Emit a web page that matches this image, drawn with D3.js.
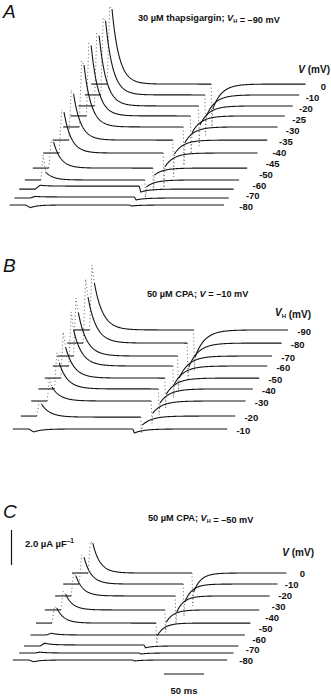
<!DOCTYPE html>
<html>
<head>
<meta charset="utf-8">
<script src="https://cdn.jsdelivr.net/npm/d3@7"></script>
<style>
  body { margin: 0; background: #fff; }
  svg text { font-family: "Liberation Sans", Arial, sans-serif; fill: #111; }
</style>
</head>
<body>
<div id="chart"></div>
<script>
// --------------------------------------
//  Protocol timing (ms, from trace start)
// --------------------------------------
const tOn = 20, tRise = 6, tOff = 150, tEnd = 268;

// --------------------------------------
//  Data (currents in µA µF-1, times in ms)
// --------------------------------------

// A: 30 µM thapsigargin, VH = -90 mV
const voltA    = [0, -10, -20, -25, -30, -35, -40, -45, -50, -60, -70, -80];
const stackA   = [6.91, 6.29, 5.66, 5.09, 4.46, 3.71, 2.97, 2.11, 1.43, 0.91, 0.4, 0];
const shiftA   = [114, 106, 98, 88, 79, 66, 54, 41, 31, 24, 18, 12];
const peakA    = [4.29, 4.23, 4.0, 4.0, 3.54, 2.63, 2.34, 1.49, 0.46, 0.05, 0.03, -0.15];
const capOnA   = [4.46, 4.4, 4.17, 4.17, 3.77, 2.86, 2.46, 1.6, 1.43, 0, 0, 0];
const platA    = [0, 0, 0, 0, 0, 0, 0, 0, 0, 0.17, 0.06, 0];
const tailA    = [1.43, 1.2, 1.09, 0.97, 0.91, 0.8, 0.8, 0.4, 0.4, 0.17, 0.11, 0.06];
const capOffA  = [1.0, 1.1, 1.2, 1.2, 1.3, 1.3, 1.3, 0.9, 0.6, 0, 0, 0];

// B: 50 µM CPA, V = -10 mV
const voltB    = [-90, -80, -70, -60, -50, -40, -30, -20, -10];
const stackB   = [5.66, 4.91, 4.17, 3.6, 2.91, 2.29, 1.6, 0.74, 0];
const shiftB   = [92, 84, 72, 66, 56, 48, 39, 26, 16];
const peakB    = [2.69, 2.63, 2.46, 2.06, 1.77, 1.49, 0.8, 0.74, -0.17];
const capOnB   = [3.71, 3.66, 3.31, 3.09, 2.63, 2.06, 1.37, 0.91, 0];
const platB    = [0, 0, 0, 0, 0, 0, 0, -0.06, 0];
const tailB    = [1.54, 1.37, 1.26, 1.03, 0.91, 0.8, 0.69, 0.51, 0.23];
const capOffB  = [0.8, 0.8, 0.8, 0.8, 0.8, 0.7, 0.6, 0.5, 0.3];

// C: 50 µM CPA, VH = -50 mV
const voltC    = [0, -10, -20, -30, -40, -50, -60, -70, -80];
const stackC   = [4.97, 4.34, 3.66, 2.86, 2.11, 1.43, 0.8, 0.4, 0];
const shiftC   = [90, 79, 69, 56, 45, 38, 30, 24, 16];
const peakC    = [1.71, 1.54, 1.14, 0.91, 0.86, 0.1, 0.1, 0.05, -0.1];
const capOnC   = [1.8, 1.65, 1.3, 1.05, 0.95, 0, 0, 0, 0];
const platC    = [0, 0, 0, 0, 0, 0, 0.06, 0, 0];
const tailC    = [1.09, 1.03, 0.91, 0.69, 0.69, 0, 0.1, 0.06, 0.06];
const capOffC  = [0.8, 0.8, 0.7, 0.6, 0.5, 0, 0, 0, 0];

// --------------------------------------
//  Canvas
// --------------------------------------
const width = 331, height = 696;

const svg = d3.select("#chart")
  .append("svg")
    .attr("width", width)
    .attr("height", height)
    .attr("viewBox", `0 0 ${width} ${height}`);

// 50 ms = 40 px
const x = d3.scaleLinear().domain([0, 50]).range([0, 40]);

const panels = [
  {volt: voltA, stack: stackA, shift: shiftA, peak: peakA, capOn: capOnA, plat: platA,
   tail: tailA, capOff: capOffA, tau: 9, tauTail: 11, base: 205,
   letter: "A", letterY: 18,
   title: [["30 µM thapsigargin; "], ["V", "i"], ["H", "s"], [" = –90 mV"]], titleX: 138, titleY: 21,
   head: [["V", "i"], [" (mV)"]], headX: 330, headY: 73,
   labels: {mode: "line", x: [326, 253], y: [87, 207]}},
  {volt: voltB, stack: stackB, shift: shiftB, peak: peakB, capOn: capOnB, plat: platB,
   tail: tailB, capOff: capOffB, tau: 10.5, tauTail: 12, base: 429,
   letter: "B", letterY: 272,
   title: [["50 µM CPA; "], ["V", "i"], [" = –10 mV"]], titleX: 147, titleY: 297,
   head: [["V", "i"], ["H", "s"], [" (mV)"]], headX: 311, headY: 316,
   labels: {mode: "end", dx: 23, dy: 2}},
  {volt: voltC, stack: stackC, shift: shiftC, peak: peakC, capOn: capOnC, plat: platC,
   tail: tailC, capOff: capOffC, tau: 9, tauTail: 9, base: 660,
   letter: "C", letterY: 518,
   title: [["50 µM CPA; "], ["V", "i"], ["H", "s"], [" = –50 mV"]], titleX: 148, titleY: 521,
   head: [["V", "i"], [" (mV)"]], headX: 314, headY: 556,
   labels: {mode: "line", x: [305, 253], y: [574, 661]}}
];

// writes mixed-style text runs (i = italic, s = subscript)
function richText(sel, runs, size) {
  runs.forEach(r => {
    const t = sel.append("tspan").text(r[0]);
    if (r[1] === "i") t.attr("font-style", "italic");
    if (r[1] === "s") {
      t.attr("font-size", size * 0.6).attr("dy", 2);
      sel.append("tspan").attr("dy", -2).text("");
    }
  });
}

const step = 0.5;
const solidStroke = "#151515";
const dotStroke = "#555";

panels.forEach(p => {

  const y = d3.scaleLinear().domain([0, 2]).range([p.base, p.base - 35]);
  const g = svg.append("g");

  p.volt.forEach((v, i) => {

    const line = d3.line()
      .x(q => x(p.shift[i] + q[0]))
      .y(q => y(p.stack[i] + q[1]));

    const decayAt = t => p.plat[i] + p.peak[i] * Math.exp(-(t - tOn - tRise) / p.tau);
    const tailAt = t => -p.tail[i] * Math.exp(-(t - tOff - 2) / p.tauTail);

    const pre = [[0, 0], [tOn, 0]];
    const decay = d3.range(tOn + tRise, tOff + step / 2, step).map(t => [t, decayAt(t)]);
    const tail = d3.range(tOff + 2, tEnd + step / 2, step).map(t => [t, tailAt(t)]);

    const onEdge = [[tOn, 0], [tOn + tRise / 2, p.plat[i] + p.capOn[i]], [tOn + tRise, decayAt(tOn + tRise)]];
    const offEdge = [[tOff, decayAt(tOff)], [tOff + 1, -p.tail[i] - p.capOff[i]], [tOff + 2, tailAt(tOff + 2)]];

    // fast edges: sparse samples print as dots
    const bigOn = p.capOn[i] > 0.3;
    const bigOff = p.capOff[i] > 0.3;

    const solid = pts => g.append("path").attr("d", line(pts))
      .attr("fill", "none").attr("stroke", solidStroke).attr("stroke-width", 1.1);
    const dotted = pts => g.append("path").attr("d", line(pts))
      .attr("fill", "none").attr("stroke", dotStroke)
      .attr("stroke-width", 0.9).attr("stroke-dasharray", "1,2.6");

    if (bigOn) {
      dotted(onEdge);
      solid(pre);
      solid(decay);
    } else {
      solid(pre.concat(decay));
    }

    if (bigOff) {
      dotted(offEdge);
      solid(tail);
    } else {
      solid([[tOff, decayAt(tOff)]].concat(tail));
    }

    // voltage label
    let lx, ly;
    if (p.labels.mode === "line") {
      const n = p.volt.length - 1;
      lx = d3.scaleLinear().domain([0, n]).range(p.labels.x)(i);
      ly = d3.scaleLinear().domain([0, n]).range(p.labels.y)(i);
    } else {
      lx = x(p.shift[i] + tEnd) + p.labels.dx;
      ly = y(p.stack[i]) + p.labels.dy;
    }
    g.append("text")
      .attr("x", lx).attr("y", ly).attr("dy", "0.35em")
      .attr("text-anchor", "end")
      .attr("font-size", 9.5).attr("font-weight", "bold")
      .text(String(v));
  });

  // panel letter
  svg.append("text")
    .attr("x", 3).attr("y", p.letterY)
    .attr("font-size", 19).attr("font-style", "italic")
    .text(p.letter);

  // title
  const tt = svg.append("text")
    .attr("x", p.titleX).attr("y", p.titleY)
    .attr("font-size", 9.2).attr("font-weight", "bold");
  richText(tt, p.title, 9.2);

  // column header
  const hh = svg.append("text")
    .attr("x", p.headX).attr("y", p.headY)
    .attr("text-anchor", "end")
    .attr("font-size", 10).attr("font-weight", "bold");
  richText(hh, p.head, 10);
});

// --------------------------------------
//  Scale bars (panel C)
// --------------------------------------
const yBar = d3.scaleLinear().domain([0, 2]).range([565, 530]);

svg.append("line")
  .attr("x1", 11.5).attr("x2", 11.5)
  .attr("y1", yBar(0)).attr("y2", yBar(2.0))
  .attr("stroke", solidStroke).attr("stroke-width", 1.2);

const sb = svg.append("text")
  .attr("x", 25).attr("y", 547)
  .attr("font-size", 9.5).attr("font-weight", "bold");
sb.append("tspan").text("2.0 µA µF");
sb.append("tspan").attr("dy", -4).attr("font-size", 6.5).text("–1");

const barX0 = 164;
svg.append("line")
  .attr("x1", barX0).attr("x2", barX0 + x(50) - x(0))
  .attr("y1", 674).attr("y2", 674)
  .attr("stroke", solidStroke).attr("stroke-width", 1.2);

svg.append("text")
  .attr("x", barX0 + (x(50) - x(0)) / 2).attr("y", 694)
  .attr("text-anchor", "middle")
  .attr("font-size", 9.5).attr("font-weight", "bold")
  .text("50 ms");
</script>
</body>
</html>
